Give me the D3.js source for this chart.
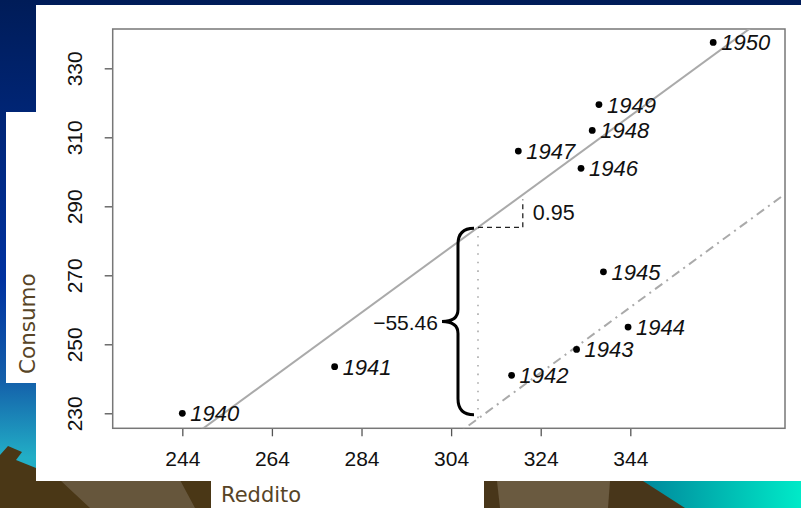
<!DOCTYPE html>
<html>
<head>
<meta charset="utf-8">
<script src="https://cdn.jsdelivr.net/npm/d3@7"></script>
<style>
    html, body { margin: 0; padding: 0; background: #001f5f; }
    svg { display: block; }
</style>
</head>
<body>
<svg id="chart" width="801" height="508"></svg>
<script>
// dati consumo / reddito 1940-1950
var anni = ["1940", "1941", "1942", "1943", "1944", "1945", "1946", "1947", "1948", "1949", "1950"];
var reddito = [244, 278, 317.5, 332, 343.5, 338, 333, 319, 335.5, 337, 362.5];
var consumo = [230, 243.5, 241, 248.5, 255, 271, 301, 306, 312, 319.5, 337.5];

var xTicks = [244, 264, 284, 304, 324, 344];
var yTicks = [230, 250, 270, 290, 310, 330];

// retta stimata e spostamento anni di guerra
var intercetta = -10.6;
var pendenza = 0.95;
var effettoGuerra = -55.46;
var redditoRif = 310;
var redditoPasso = 320;
var consumoPasso = 292;

var svg = d3.select("#chart");

// ---- sfondo della diapositiva ----
var defs = svg.append("defs");
var cielo = defs.append("linearGradient")
    .attr("id", "cielo").attr("x1", 0).attr("y1", 0).attr("x2", 0).attr("y2", 1);
cielo.append("stop").attr("offset", "0").attr("stop-color", "#001c58");
cielo.append("stop").attr("offset", "0.55").attr("stop-color", "#0032a0");
cielo.append("stop").attr("offset", "0.75").attr("stop-color", "#1460aa");
cielo.append("stop").attr("offset", "0.9").attr("stop-color", "#22aec6");

var mare = defs.append("linearGradient")
    .attr("id", "mare").attr("x1", 0).attr("y1", 0).attr("x2", 1).attr("y2", 0);
mare.append("stop").attr("offset", "0").attr("stop-color", "#00889c");
mare.append("stop").attr("offset", "1").attr("stop-color", "#00eac8");

svg.append("rect").attr("width", 801).attr("height", 508).attr("fill", "url(#cielo)");

// montagne in basso
svg.append("path")
    .attr("d", "M0,455 L8,446 L22,452 L16,460 L36,468 L40,508 L0,508 Z")
    .attr("fill", "#4a3716");
svg.append("path")
    .attr("d", "M0,480 L211,480 L211,508 L0,508 Z")
    .attr("fill", "#66563c");
svg.append("path")
    .attr("d", "M0,480 L60,480 L90,508 L0,508 Z M180,480 L211,480 L211,508 L195,508 Z")
    .attr("fill", "#4a3716");

svg.append("rect").attr("x", 484).attr("y", 480).attr("width", 317).attr("height", 28).attr("fill", "#48361a");
svg.append("path")
    .attr("d", "M497,481 L610,481 L608,508 L500,508 Z")
    .attr("fill", "#6a5a40");
svg.append("path")
    .attr("d", "M643,481 L801,481 L801,508 L685,508 Z")
    .attr("fill", "url(#mare)");

// riquadri bianchi
svg.append("rect").attr("x", 36).attr("y", 5).attr("width", 765).attr("height", 476).attr("fill", "#fff");
svg.append("rect").attr("x", 6).attr("y", 112).attr("width", 31).attr("height", 271).attr("fill", "#fff");
svg.append("rect").attr("x", 211).attr("y", 480).attr("width", 273).attr("height", 28).attr("fill", "#fff");

// ---- grafico ----
var pLeft = 112.7, pRight = 785, pTop = 29, pBottom = 428.3;

var x = d3.scaleLinear().domain([228.46, 378.53]).range([pLeft, pRight]);
var y = d3.scaleLinear().domain([225.65, 341.4]).range([pBottom, pTop]);

defs.append("clipPath").attr("id", "area")
    .append("rect").attr("x", pLeft).attr("y", pTop)
    .attr("width", pRight - pLeft).attr("height", pBottom - pTop);

var font = "'Liberation Sans', Arial, Helvetica, sans-serif";

// assi
var xAxis = svg.append("g")
    .attr("transform", "translate(0," + pBottom + ")")
    .call(d3.axisBottom(x).tickValues(xTicks).tickSize(8).tickPadding(10).tickFormat(d3.format("d")));
xAxis.select(".domain").remove();
xAxis.selectAll("line").attr("stroke", "#555").attr("stroke-width", 1.3);
xAxis.selectAll("text").attr("font-family", font).attr("font-size", 21).attr("fill", "#111")
    .attr("y", 38).attr("dy", null);

var yAxis = svg.append("g")
    .attr("transform", "translate(" + pLeft + ",0)")
    .call(d3.axisLeft(y).tickValues(yTicks).tickSize(8).tickFormat(d3.format("d")));
yAxis.select(".domain").remove();
yAxis.selectAll("line").attr("stroke", "#555").attr("stroke-width", 1.3);
yAxis.selectAll("text")
    .attr("font-family", font).attr("font-size", 21).attr("fill", "#111")
    .attr("x", null).attr("dy", null)
    .attr("text-anchor", "middle")
    .attr("transform", "translate(-31,0) rotate(-90)");

// cornice
svg.append("rect")
    .attr("x", pLeft).attr("y", pTop)
    .attr("width", pRight - pLeft).attr("height", pBottom - pTop)
    .attr("fill", "none").attr("stroke", "#777").attr("stroke-width", 1.5);

var plot = svg.append("g").attr("clip-path", "url(#area)");

function retta(a) {
    return d3.line()
        .x(function (d) { return x(d); })
        .y(function (d) { return y(a + pendenza * d); })(x.domain());
}

plot.append("path")
    .attr("d", retta(intercetta))
    .attr("fill", "none").attr("stroke", "#aaa").attr("stroke-width", 2);

plot.append("path")
    .attr("d", retta(intercetta + effettoGuerra))
    .attr("fill", "none").attr("stroke", "#aaa").attr("stroke-width", 2)
    .attr("stroke-dasharray", "9,5,2,5");

var cRif = intercetta + pendenza * redditoRif;

// verticale punteggiata tra le due rette
plot.append("line")
    .attr("x1", x(redditoRif)).attr("x2", x(redditoRif))
    .attr("y1", y(cRif)).attr("y2", y(cRif + effettoGuerra))
    .attr("stroke", "#aaa").attr("stroke-width", 1.6)
    .attr("stroke-dasharray", "1.6,7");

// triangolo della pendenza
plot.append("path")
    .attr("d", "M" + x(redditoRif) + "," + y(cRif) +
        " L" + x(redditoPasso) + "," + y(cRif) +
        " L" + x(redditoPasso) + "," + y(consumoPasso))
    .attr("fill", "none").attr("stroke", "#222").attr("stroke-width", 1.3)
    .attr("stroke-dasharray", "5,4");

svg.append("text")
    .attr("x", x(redditoPasso) + 10).attr("y", y(cRif) - 7)
    .attr("font-family", font).attr("font-size", 21.5).attr("fill", "#111")
    .text(pendenza.toFixed(2));

// parentesi graffa
var bx = x(redditoRif);
var by0 = y(cRif) + 1;
var by1 = y(cRif + effettoGuerra) - 4;
var bm = (by0 + by1) / 2;
var fine = bx - 4, dorso = bx - 20, punta = bx - 36;
var graffa = "M" + fine + "," + by0 +
    " Q" + dorso + "," + by0 + " " + dorso + "," + (by0 + 16) +
    " L" + dorso + "," + (bm - 12) +
    " Q" + dorso + "," + bm + " " + punta + "," + bm +
    " Q" + dorso + "," + bm + " " + dorso + "," + (bm + 12) +
    " L" + dorso + "," + (by1 - 16) +
    " Q" + dorso + "," + by1 + " " + fine + "," + by1;
svg.append("path")
    .attr("d", graffa)
    .attr("fill", "none").attr("stroke", "#000").attr("stroke-width", 3);

svg.append("text")
    .attr("x", punta - 4).attr("y", bm + 8)
    .attr("text-anchor", "end")
    .attr("font-family", font).attr("font-size", 21).attr("fill", "#111")
    .text("\u2212" + Math.abs(effettoGuerra).toFixed(2));

// punti e anni
var punti = anni.map(function (a, i) {
    return { anno: a, r: reddito[i], c: consumo[i] };
});

svg.selectAll("circle.punto")
    .data(punti)
    .enter().append("circle")
    .attr("class", "punto")
    .attr("cx", function (d) { return x(d.r); })
    .attr("cy", function (d) { return y(d.c); })
    .attr("r", 3.4)
    .attr("fill", "#000");

svg.selectAll("text.anno")
    .data(punti)
    .enter().append("text")
    .attr("class", "anno")
    .attr("x", function (d) { return x(d.r) + 8; })
    .attr("y", function (d) { return y(d.c) + 8; })
    .attr("font-family", font).attr("font-size", 22).attr("font-style", "italic")
    .attr("fill", "#111")
    .text(function (d) { return d.anno; });

// titoli degli assi
var fontTitoli = "'DejaVu Sans', Verdana, sans-serif";
svg.append("text")
    .attr("x", 221).attr("y", 502)
    .attr("font-family", fontTitoli).attr("font-size", 21).attr("fill", "#574426")
    .text("Reddito");

svg.append("text")
    .attr("transform", "translate(35,374) rotate(-90)")
    .attr("font-family", fontTitoli).attr("font-size", 21.5).attr("fill", "#574426")
    .text("Consumo");
</script>
</body>
</html>
